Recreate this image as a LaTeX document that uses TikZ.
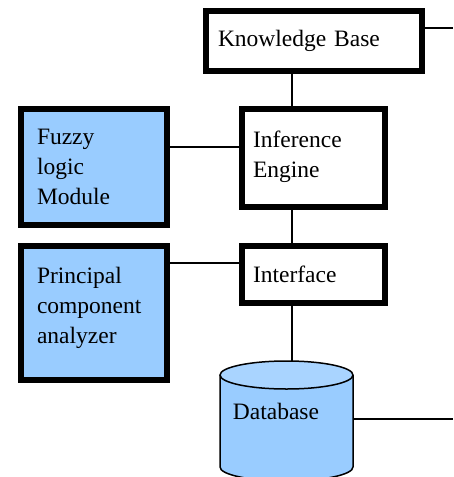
\documentclass[tikz,border=0pt]{standalone}
\usepackage{fontspec}
\setmainfont{Liberation Serif}
\definecolor{boxblue}{HTML}{99CCFF}
\definecolor{caplight}{HTML}{A9D4FF}
\newcommand{\lowpad}[1]{\rule[-#1]{0pt}{#1}}
\begin{document}
\begin{tikzpicture}[x=1pt,y=-1pt,
  box/.style={draw=black, line width=6pt, fill=white, anchor=north west,
    inner xsep=12pt, inner ysep=0pt, align=left,
    font=\fontsize{23.5}{30}\selectfont},
  bluebox/.style={box, fill=boxblue, inner xsep=16pt},
  wire/.style={draw=black, line width=1.3pt},
  dbline/.style={draw=black, line width=1.5pt}]
\useasboundingbox (0,0) rectangle (453,477);

% system components
\node[box, minimum width=216pt, minimum height=60pt, text width=192pt]
  (kb) at (203,8) {Knowledge Base};
\node[bluebox, minimum width=146pt, minimum height=116pt, text width=114pt]
  (fuzzy) at (18,106) {Fuzzy\\logic\\Module};
\node[box, minimum width=143pt, minimum height=98pt, inner xsep=11pt, text width=121pt]
  (inf) at (239,106) {Inference\\Engine\lowpad{8pt}};
\node[bluebox, minimum width=146pt, minimum height=134pt, text width=114pt]
  (pca) at (18,243) {Principal\\component\\analyzer\lowpad{16pt}};
\node[box, minimum width=143pt, minimum height=57pt, inner xsep=11pt, text width=121pt]
  (ifc) at (239,243) {Interface};

% database drum
\fill[boxblue] (220,375) -- (220,467)
  arc[start angle=180, end angle=360, x radius=66.5pt, y radius=14pt]
  -- (353,375) -- cycle;
\draw[dbline] (220,375) -- (220,467)
  arc[start angle=180, end angle=360, x radius=66.5pt, y radius=14pt]
  -- (353,375);
\draw[dbline, fill=caplight] (286.5,375) ellipse [x radius=66.5pt, y radius=14pt];
\node[inner sep=0pt, font=\fontsize{23.5}{30}\selectfont] (db) at (276,411) {Database};
\coordinate (dbtop) at (292,361);
\coordinate (dbright) at (353,419);

% routing helpers
\coordinate (spine) at (292,0);
\coordinate (kbout) at (453,28);
\coordinate (row1) at (0,147);
\coordinate (row2) at (0,263);
\coordinate (dbout) at (453,419);

% connectors
\draw[wire] (kb.east |- kbout) -- (kbout);
\draw[wire] (kb.south -| spine) -- (inf.north -| spine);
\draw[wire] (inf.south -| spine) -- (ifc.north -| spine);
\draw[wire] (ifc.south -| spine) -- (dbtop);
\draw[wire] (fuzzy.east |- row1) -- (inf.west |- row1);
\draw[wire] (pca.east |- row2) -- (ifc.west |- row2);
\draw[wire] (dbright) -- (dbout);
\end{tikzpicture}
\end{document}
